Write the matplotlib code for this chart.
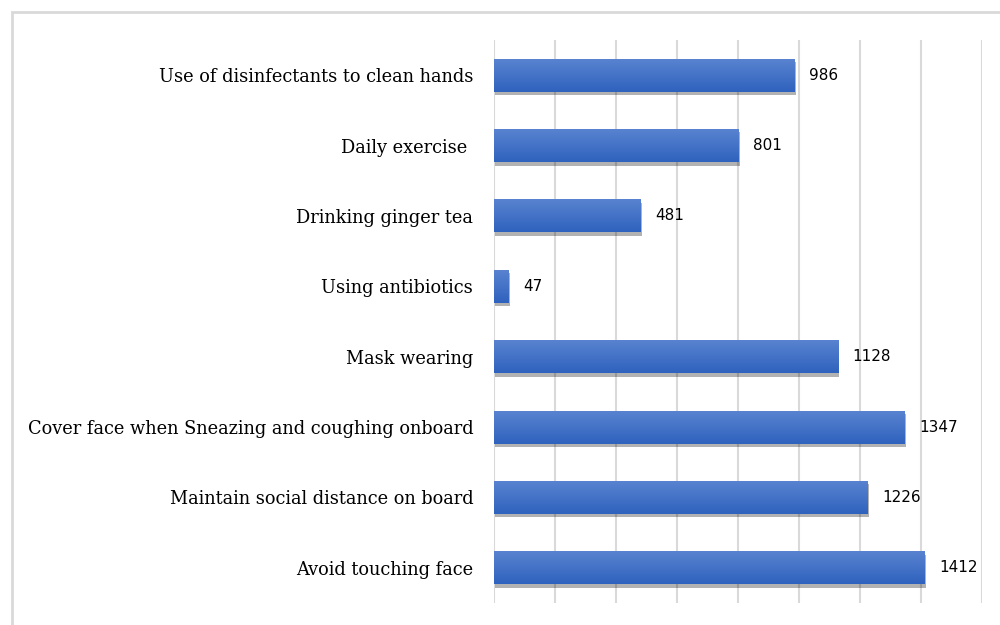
import matplotlib.pyplot as plt
import numpy as np
from matplotlib.patches import Rectangle
import matplotlib.patheffects as pe

# data, bottom to top
categories = [
    "Avoid touching face",
    "Maintain social distance on board",
    "Cover face when Sneazing and coughing onboard",
    "Mask wearing",
    "Using antibiotics",
    "Drinking ginger tea",
    "Daily exercise ",
    "Use of disinfectants to clean hands",
]
counts = [1412, 1226, 1347, 1128, 47, 481, 801, 986]

fig = plt.figure(figsize=(10, 6.25), dpi=100)
ax = fig.add_axes([0.494, 0.0352, 0.488, 0.9008])

# light frame around the chart area
fig.patches.append(Rectangle((0.012, -0.1), 1.2, 0.1 + 1 - 0.019,
                             transform=fig.transFigure, fill=False,
                             edgecolor="#d9d9d9", linewidth=2))

y = np.arange(len(categories))
bars = ax.barh(y, counts, height=0.47, color="#4472c4", zorder=3,
               path_effects=[pe.SimplePatchShadow(offset=(1, -2.5),
                                                  shadow_rgbFace="#000000",
                                                  alpha=0.3),
                             pe.Normal()])

# vertical gradient inside each bar
grad = np.linspace(0, 1, 64).reshape(-1, 1)
cmap = plt.matplotlib.colors.LinearSegmentedColormap.from_list(
    "bar", ["#2f62be", "#5a84d0"])
for b in bars:
    x0, y0 = b.get_x(), b.get_y()
    im = ax.imshow(grad, cmap=cmap, aspect="auto", origin="lower",
                   extent=(x0, x0 + b.get_width(), y0, y0 + b.get_height()),
                   zorder=4)
    im.set_clip_path(b)

for b, v in zip(bars, counts):
    ax.annotate(str(v), (b.get_width(), b.get_y() + b.get_height() / 2),
                xytext=(10.5, 0), textcoords="offset points",
                va="center", ha="left", fontsize=11, color="#000000",
                family="DejaVu Sans")

ax.set_xlim(0, 1600)
ax.set_ylim(-0.5, len(categories) - 0.5)
ax.set_xticks(np.arange(0, 1601, 200))
ax.tick_params(axis="x", length=0, labelbottom=False)
ax.grid(axis="x", color="#d9d9d9", linewidth=1.5, zorder=0)
ax.set_yticks(y)
ax.set_yticklabels(categories, family="DejaVu Serif", fontsize=12.8)
ax.tick_params(axis="y", length=0, pad=15)
for s in ax.spines.values():
    s.set_visible(False)

fig.savefig("out.png", dpi=100)
